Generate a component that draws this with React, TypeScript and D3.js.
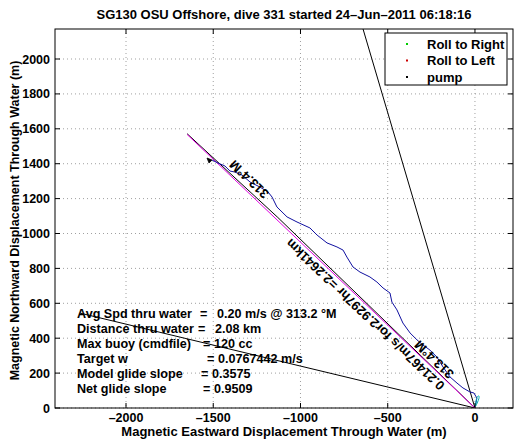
import React from "react";
import * as d3 from "d3";

const W = 521, H = 442;
const M = { left: 55, right: 513, top: 29, bottom: 408 };
const X_DOMAIN = [-2407, 218];
const Y_DOMAIN = [0, 2172];
const X_TICKS = [-2000, -1500, -1000, -500, 0];
const Y_TICKS = [0, 200, 400, 600, 800, 1000, 1200, 1400, 1600, 1800, 2000];

const TITLE = "SG130 OSU Offshore, dive 331 started 24\u2013Jun\u20132011 06:18:16";
const X_LABEL = "Magnetic Eastward Displacement Through Water (m)";
const Y_LABEL = "Magnetic Northward Displacement Through Water (m)";

// dive track through water (m east, m north)
const trackX = [-1507, -1473, -1433, -1404, -1375, -1335, -1289, -1232, -1186, -1163, -1135, -1077, -1020, -946, -905, -848, -791, -756, -734, -699, -659, -602, -562, -527, -487, -476, -447, -413, -372, -332, -298, -258, -218, -183, -143, -103, -69, -29, -6, 11, 6, 0];
const trackY = [1421, 1404, 1387, 1358, 1352, 1335, 1295, 1266, 1238, 1209, 1152, 1095, 1066, 1032, 991, 946, 923, 905, 865, 808, 779, 751, 722, 688, 659, 607, 562, 487, 430, 390, 361, 332, 292, 235, 178, 143, 115, 92, 86, 57, 29, 6];
const loopX = [0, 10, 20, 25, 22, 14, 8];
const loopY = [0, 22, 45, 62, 72, 66, 55];

const netX = [0, -1650];
const netY = [0, 1568];
const blackX = [0, -1130, -1650];
const blackY = [0, 1092, 1572];
const steepX = [0, -700];
const steepY = [0, 2370];
const lowX = [-2264, 0];
const lowY = [544, 0];

const LINE_LABELS = [
  { text: "313.4\u00b0M", x: -1290, y: 1315 },
  { text: "0.21467m/s for2.9297hr =2.2641km", x: -625, y: 540 },
  { text: "313.4\u00b0M", x: -230, y: 282 },
];

const INFO_LABELS = ["Avg Spd thru water", "Distance thru water", "Max buoy (cmdfile)", "Target w", "Model glide slope", "Net glide slope"];
const INFO_VALUES = ["0.20 m/s @ 313.2 \u00b0M", "2.08 km", "120 cc", "0.0767442 m/s", "0.3575", "0.9509"];
const EQ_X = [200, 198, 203, 207, 201, 203];
const VAL_X = [217, 215, 214, 218, 212, 214];

const LEGEND = [
  { label: "Roll to Right", color: "#00cc00" },
  { label: "Roll to Left", color: "#cc0000" },
  { label: "pump", color: "#000000" },
];

const FONT = "'Liberation Sans', Arial, Helvetica, sans-serif";
const FS = 13;

export default function App() {
  const x = d3.scaleLinear().domain(X_DOMAIN).range([M.left, M.right]);
  const y = d3.scaleLinear().domain(Y_DOMAIN).range([M.bottom, M.top]);
  const line = d3.line<[number, number]>().x((d) => x(d[0])).y((d) => y(d[1]));
  const pts = (xs: number[], ys: number[]) => xs.map((v, i) => [v, ys[i]] as [number, number]);

  const ang = (Math.atan2(y(netY[1]) - y(0), x(netX[1]) - x(0)) * 180) / Math.PI;
  const tk = 5;

  return (
    <svg width={W} height={H} style={{ display: "block", position: "absolute", left: 0, top: 0 }} fontFamily={FONT}>
      <rect width={W} height={H} fill="#fff" />
      <defs>
        <clipPath id="plotclip">
          <rect x={M.left} y={M.top} width={M.right - M.left} height={M.bottom - M.top} />
        </clipPath>
      </defs>
      <text x={(M.left + M.right) / 2} y={19} textAnchor="middle" fontSize={FS} fontWeight="bold">{TITLE}</text>

      {/* grid */}
      {X_TICKS.map((t) => (
        <line key={"gx" + t} x1={x(t)} x2={x(t)} y1={M.top} y2={M.bottom} stroke="#888" strokeWidth={0.8} strokeDasharray="1,3" />
      ))}
      {Y_TICKS.map((t) => (
        <line key={"gy" + t} y1={y(t)} y2={y(t)} x1={M.left} x2={M.right} stroke="#888" strokeWidth={0.8} strokeDasharray="1,3" />
      ))}

      <g clipPath="url(#plotclip)" fill="none">
        <path d={line(pts(steepX, steepY))!} stroke="#000" strokeWidth={1} />
        <path d={line(pts(lowX, lowY))!} stroke="#000" strokeWidth={1} />
        <path d={line(pts(blackX, blackY))!} stroke="#000" strokeWidth={1} />
        <path d={line(pts(netX, netY))!} stroke="#e000e0" strokeWidth={1} />
        <path d={line(pts(trackX, trackY))!} stroke="#1010a0" strokeWidth={1} />
        <path d={d3.line<[number, number]>().x((d) => x(d[0])).y((d) => y(d[1])).curve(d3.curveBasisClosed)(pts(loopX, loopY))!} stroke="#00b0b0" strokeWidth={1} />
        <path d={`M${x(trackX[0])},${y(trackY[0])} l-5,-2 l2,5 z`} fill="#000" stroke="#000" strokeWidth={0.8} />
      </g>

      {LINE_LABELS.map((l, i) => (
        <text key={"ll" + i} transform={`translate(${x(l.x)},${y(l.y)}) rotate(${ang})`} textAnchor="middle" dominantBaseline="middle" fontSize={FS} fontWeight="bold">{l.text}</text>
      ))}

      {INFO_LABELS.map((l, i) => (
        <g key={"info" + i} fontSize={12.6} fontWeight="bold">
          <text x={77} y={318 + i * 15}>{l}</text>
          <text x={EQ_X[i]} y={318 + i * 15}>=</text>
          <text x={VAL_X[i]} y={318 + i * 15}>{INFO_VALUES[i]}</text>
        </g>
      ))}

      {/* axes box */}
      <rect x={M.left} y={M.top} width={M.right - M.left} height={M.bottom - M.top} fill="none" stroke="#000" strokeWidth={1} />
      {X_TICKS.map((t) => (
        <g key={"tx" + t}>
          <line x1={x(t)} x2={x(t)} y1={M.bottom} y2={M.bottom - tk} stroke="#000" />
          <line x1={x(t)} x2={x(t)} y1={M.top} y2={M.top + tk} stroke="#000" />
          <text x={x(t)} y={422} textAnchor="middle" fontSize={12.5} fontWeight="bold">{t < 0 ? "\u2013" + Math.abs(t) : t}</text>
        </g>
      ))}
      {Y_TICKS.map((t) => (
        <g key={"ty" + t}>
          <line y1={y(t)} y2={y(t)} x1={M.left} x2={M.left + tk} stroke="#000" />
          <line y1={y(t)} y2={y(t)} x1={M.right} x2={M.right - tk} stroke="#000" />
          <text x={50} y={y(t) + 4.5} textAnchor="end" fontSize={12.5} fontWeight="bold">{t}</text>
        </g>
      ))}
      <text x={(M.left + M.right) / 2} y={436} textAnchor="middle" fontSize={FS} fontWeight="bold">{X_LABEL}</text>
      <text transform={`translate(18.5,${(M.top + M.bottom) / 2 + 2}) rotate(-90)`} textAnchor="middle" fontSize={12.5} fontWeight="bold">{Y_LABEL}</text>

      {/* legend */}
      <rect x={385} y={33} width={122} height={52} fill="#fff" stroke="#000" strokeWidth={1} />
      {LEGEND.map((l, i) => (
        <g key={"lg" + i}>
          <rect x={406} y={43 + i * 16.5} width={2} height={2} fill={l.color} />
          <text x={427} y={48.5 + i * 16.5} fontSize={FS} fontWeight="bold">{l.label}</text>
        </g>
      ))}
    </svg>
  );
}
